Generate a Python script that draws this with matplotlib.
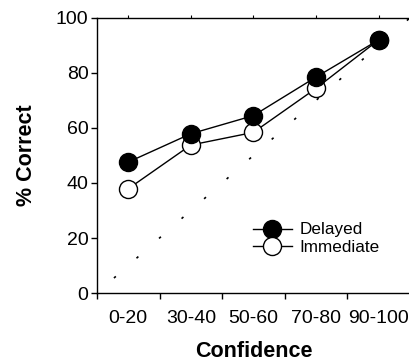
import numpy as np
import matplotlib.pyplot as plt

plt.rcParams['font.family'] = ['Liberation Sans', 'DejaVu Sans']

# confidence bins and accuracy per condition
bins = ["0-20", "30-40", "50-60", "70-80", "90-100"]
delayed = [47.6, 57.9, 64.5, 78.5, 92.0]
immediate = [37.9, 53.8, 58.4, 74.4, 92.0]

x = np.arange(len(bins))

fig = plt.figure(figsize=(4.09, 3.62), dpi=100)
ax = fig.add_axes([0.237, 0.1906, 0.765, 0.7597])

# perfect calibration reference line
ax.plot([-0.5, 4.5], [0, 100], color='black', lw=1.2,
        linestyle=(4.4, (1.5, 16.5)), zorder=1)

ax.plot(x, immediate, color='black', lw=1, marker='o', ms=13,
        mfc='white', mec='black', mew=1, label='Immediate', zorder=2)
ax.plot(x, delayed, color='black', lw=1, marker='o', ms=13,
        mfc='black', mec='black', label='Delayed', zorder=3)

ax.set_xlim(-0.5, 4.5)
ax.set_ylim(0, 100)
ax.set_yticks([0, 20, 40, 60, 80, 100])
ax.set_xticks(x)
ax.set_xticklabels(bins)
ax.set_xticks(np.arange(-0.5, 4.6, 1), minor=True)
ax.tick_params(axis='x', which='major', length=2, top=True, bottom=False,
               direction='out', pad=10, labelsize=14)
ax.tick_params(axis='x', which='minor', length=4, width=1, direction='out')
ax.tick_params(axis='y', length=4, width=1, direction='out', labelsize=14, pad=2)

ax.spines['right'].set_visible(False)
for s in ['left', 'bottom', 'top']:
    ax.spines[s].set_linewidth(1)

ax.set_xlabel('Confidence', fontsize=15.5, fontweight='bold', labelpad=10)
ax.set_ylabel('% Correct', fontsize=15.5, fontweight='bold', labelpad=14)

h, l = ax.get_legend_handles_labels()
ax.legend(h[::-1], l[::-1], loc='lower left', bbox_to_anchor=(0.498, 0.138),
          frameon=False, fontsize=12.3, handlelength=2.3, handletextpad=0.45,
          labelspacing=0.15, borderpad=0, borderaxespad=0)

fig.savefig('out.png', dpi=100)
